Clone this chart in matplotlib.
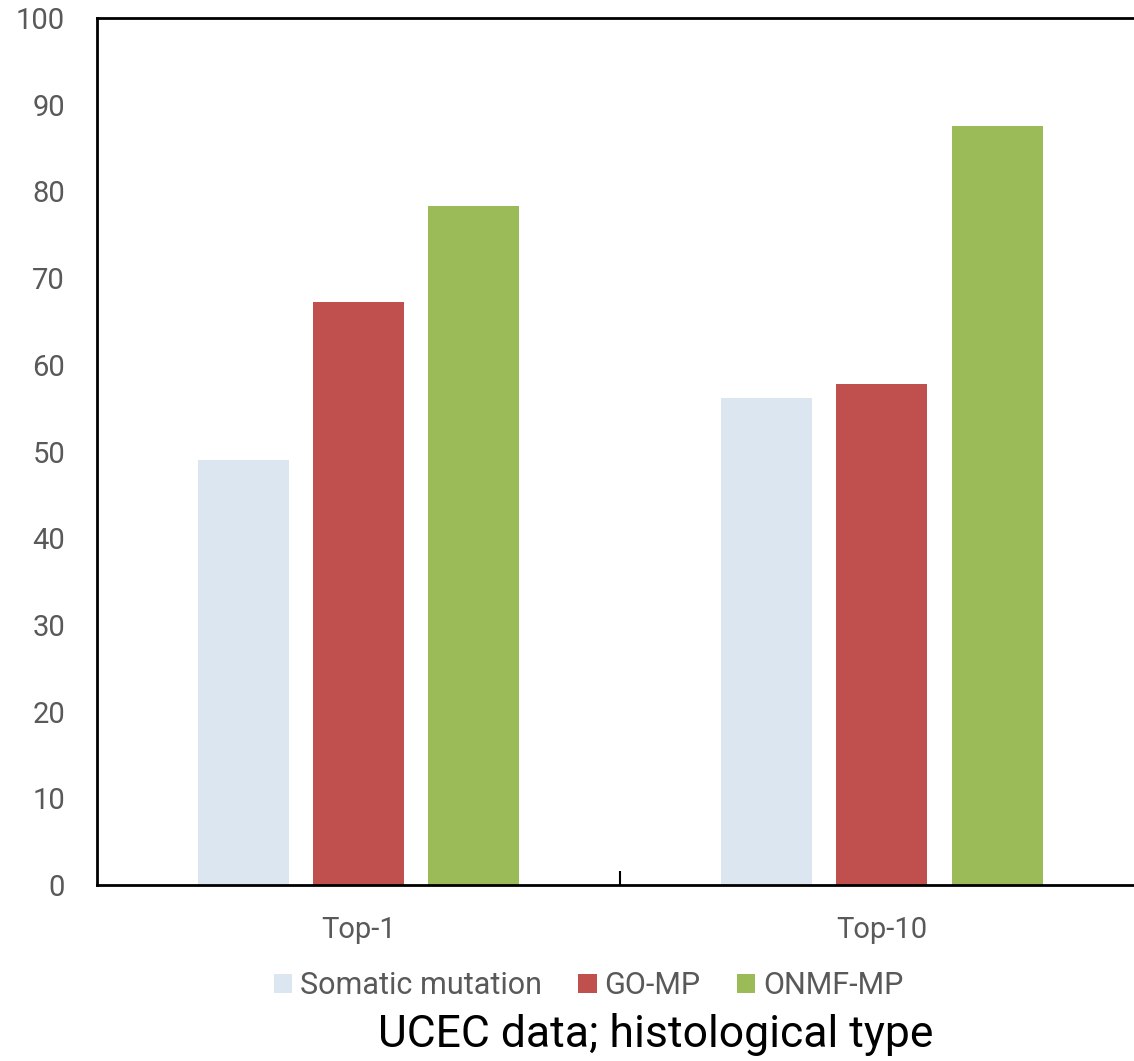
import matplotlib
matplotlib.use("Agg")
import matplotlib.pyplot as plt
import numpy as np

# Accuracy (%) of each method at Top-1 and Top-10
categories = ["Top-1", "Top-10"]
methods = ["Somatic mutation", "GO-MP", "ONMF-MP"]
somatic = [49.0, 56.2]
go_mp = [67.3, 57.8]
onmf_mp = [78.3, 87.5]
colors = ["#DCE6F1", "#C0504D", "#9BBB59"]

plt.rcParams["font.family"] = ["Roboto", "DejaVu Sans"]

fig = plt.figure(figsize=(11.34, 10.61), dpi=100)
# axes runs a little past the right edge of the figure
ax = fig.add_axes([0.0855, 0.1659, 0.923, 0.8171])

x = np.arange(len(categories))
width = 0.174
step = 0.22
for i, (vals, label) in enumerate(zip([somatic, go_mp, onmf_mp], methods)):
    ax.bar(x + (i - 1) * step, vals, width, color=colors[i], label=label, zorder=2)

ax.set_xlim(-0.5, 1.5)
ax.set_ylim(0, 100)
ax.set_yticks(range(0, 101, 10))
ax.tick_params(axis="y", length=0, pad=23, labelsize=21, labelcolor="#595959")
ax.set_xticks(x)
ax.set_xticklabels(categories)
ax.tick_params(axis="x", length=0, pad=22, labelsize=21, labelcolor="#595959")
# boundary tick between the two groups
ax.set_xticks([0.5], minor=True)
ax.tick_params(axis="x", which="minor", direction="in", length=10, width=1.5, color="black")

for side in ["left", "top", "bottom"]:
    ax.spines[side].set_color("black")
    ax.spines[side].set_linewidth(2)
ax.spines["right"].set_visible(False)

fig.legend(loc="center", bbox_to_anchor=(0.519, 0.071), ncol=3, frameon=False,
           fontsize=22, labelcolor="#595959", handlelength=0.6, handleheight=0.6,
           handletextpad=0.25, columnspacing=1.2)

fig.text(0.578, 0.025, "UCEC data; histological type", ha="center", va="center",
         fontsize=32, color="black")

fig.savefig("out.png", dpi=100)
